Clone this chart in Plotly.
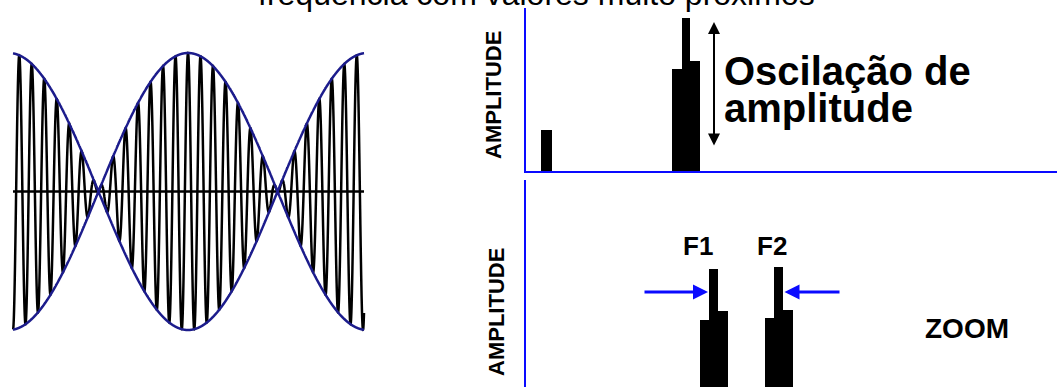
import numpy as np
import plotly.graph_objects as go

W, H = 1057, 387

def px(x):
    return x / W

def py(y):
    return 1 - y / H

# ---------------- data ----------------
# left panel: two tones of very close frequency (cycles per time window)
F1_CYCLES = 27.1
F2_CYCLES = 29.06
PEAK_TIME = 0.4986         # time of the central envelope maximum
N_SAMPLES = 6000

# top spectrum (frequency units, amplitude 0..1)
top_freq = [22.5, 153, 162, 171]
top_amp = [0.26, 0.63, 0.94, 0.68]
top_width = [11, 10, 8, 10]

# bottom zoomed spectrum
zoom_freq = [180.3, 189.3, 198.6, 245.5, 254.7, 263.9]
zoom_amp = [0.324, 0.570, 0.367, 0.333, 0.580, 0.372]
zoom_width = [9.5, 8.5, 10.2, 9.8, 8.6, 9.7]

peak_labels = ["F1", "F2"]
peak_label_freq = [173.6, 248]

title_text = "frequência com valores muito próximos"
y_label = "AMPLITUDE"

BLUE = "#0a0aff"
NAVY = "#1c1c8c"

# ---------------- signal ----------------
t = np.linspace(0, 1, N_SAMPLES)
tau = t - PEAK_TIME
signal = 0.5 * (np.cos(2 * np.pi * F1_CYCLES * tau) + np.cos(2 * np.pi * F2_CYCLES * tau))
envelope = np.abs(np.cos(np.pi * (F2_CYCLES - F1_CYCLES) * tau))

fig = go.Figure()

fig.add_trace(go.Scatter(x=t, y=signal, mode="lines",
                         line=dict(color="black", width=2.5, simplify=False),
                         xaxis="x", yaxis="y", hoverinfo="skip"))
fig.add_trace(go.Scatter(x=[0, 1], y=[0, 0], mode="lines", line=dict(color="black", width=2.5),
                         xaxis="x", yaxis="y", hoverinfo="skip"))
fig.add_trace(go.Scatter(x=t, y=envelope, mode="lines", line=dict(color=NAVY, width=2.5, simplify=False),
                         xaxis="x", yaxis="y", hoverinfo="skip"))
fig.add_trace(go.Scatter(x=t, y=-envelope, mode="lines", line=dict(color=NAVY, width=2.5, simplify=False),
                         xaxis="x", yaxis="y", hoverinfo="skip"))

fig.add_trace(go.Bar(x=top_freq, y=top_amp, width=top_width, marker=dict(color="black", line=dict(width=0)),
                     xaxis="x2", yaxis="y2"))
fig.add_trace(go.Bar(x=zoom_freq, y=zoom_amp, width=zoom_width, marker=dict(color="black", line=dict(width=0)),
                     xaxis="x3", yaxis="y3"))

# left wave panel geometry: x 13..364 px, y 53..330 px for amplitude +-1
pad_y = 0.03
amp_px = (330 - 53) / 2
cy = (330 + 53) / 2
pad_x = 0.01
wx0, wx1 = 13, 364
span = wx1 - wx0

hidden = dict(visible=False, showgrid=False, zeroline=False, fixedrange=True)

fig.update_layout(
    width=W, height=H,
    margin=dict(l=0, r=0, t=0, b=0),
    paper_bgcolor="white", plot_bgcolor="rgba(0,0,0,0)",
    showlegend=False,
    bargap=0,
    xaxis=dict(hidden, domain=[px(wx0 - pad_x * span), px(wx1 + pad_x * span)], range=[-pad_x, 1 + pad_x]),
    yaxis=dict(hidden, domain=[py(cy + (1 + pad_y) * amp_px), py(cy - (1 + pad_y) * amp_px)],
               range=[-1 - pad_y, 1 + pad_y]),
    xaxis2=dict(hidden, domain=[px(524), 1], range=[0, 533]),
    yaxis2=dict(hidden, domain=[py(173), py(8)], range=[0, 1]),
    xaxis3=dict(hidden, domain=[px(524), 1], range=[0, 533]),
    yaxis3=dict(hidden, domain=[0, py(180)], range=[0, 1]),
)

fig.update_layout(shapes=[
    dict(type="line", xref="x2", yref="y2", x0=0, x1=0, y0=0, y1=1, line=dict(color=BLUE, width=4), layer="above"),
    dict(type="line", xref="x2", yref="y2", x0=-2, x1=533, y0=0, y1=0, line=dict(color=BLUE, width=4), layer="above"),
    dict(type="line", xref="x3", yref="y3", x0=0, x1=0, y0=0, y1=1, line=dict(color=BLUE, width=4), layer="above"),
])

ann = []
# title (cut at top of the picture)
ann.append(dict(text=title_text, xref="paper", yref="paper", x=px(536), y=py(-6), xanchor="center",
                yanchor="middle", showarrow=False,
                font=dict(family="Liberation Sans, Arial", size=32, color="black")))
# vertical labels
for yc, xc in [(95, 493), (312, 496)]:
    ann.append(dict(text="<b>" + y_label + "</b>", xref="paper", yref="paper", x=px(xc), y=py(yc),
                    xanchor="center", yanchor="middle", textangle=-90, showarrow=False,
                    font=dict(family="Liberation Sans, Arial", size=22, color="black")))
# double arrow
ann.append(dict(text="", xref="x2", yref="y2", axref="x2", ayref="y2", x=190, y=0.915, ax=190, ay=0.158,
                showarrow=True, arrowside="end+start", arrowhead=2, arrowsize=1.2, arrowwidth=2,
                arrowcolor="black", standoff=0, startstandoff=0))
# Oscilação de amplitude
ann.append(dict(text="<b>Oscilação de</b>", xref="paper", yref="paper", x=px(722), y=py(85 - 0.3465 * 40),
                xanchor="left", yanchor="middle", showarrow=False,
                font=dict(family="Liberation Sans, Arial", size=40, color="black")))
ann.append(dict(text="<b>amplitude</b>", xref="paper", yref="paper", x=px(722), y=py(122 - 0.3465 * 40),
                xanchor="left", yanchor="middle", showarrow=False,
                font=dict(family="Liberation Sans, Arial", size=40, color="black")))
# F1 / F2 labels
for lab, fx in zip(peak_labels, peak_label_freq):
    ann.append(dict(text="<b>" + lab + "</b>", xref="x3", yref="paper", x=fx, y=py(255 - 0.3465 * 26),
                    xanchor="center", yanchor="middle", showarrow=False,
                    font=dict(family="Liberation Sans, Arial", size=26, color="black")))
# blue arrows
ann.append(dict(text="", xref="x3", yref="y3", axref="x3", ayref="y3", x=184, y=0.459, ax=119, ay=0.459,
                showarrow=True, arrowhead=2, arrowsize=1, arrowwidth=3, arrowcolor=BLUE, standoff=0))
ann.append(dict(text="", xref="x3", yref="y3", axref="x3", ayref="y3", x=260.5, y=0.459, ax=317, ay=0.459,
                showarrow=True, arrowhead=2, arrowsize=1, arrowwidth=3, arrowcolor=BLUE, standoff=0))
# ZOOM
ann.append(dict(text="<b>ZOOM</b>", xref="paper", yref="paper", x=px(967), y=py(338 - 0.3465 * 28),
                xanchor="center", yanchor="middle", showarrow=False,
                font=dict(family="Liberation Sans, Arial", size=28, color="black")))
fig.update_layout(annotations=ann)

fig.write_html("out.html", config=dict(displayModeBar=False))
